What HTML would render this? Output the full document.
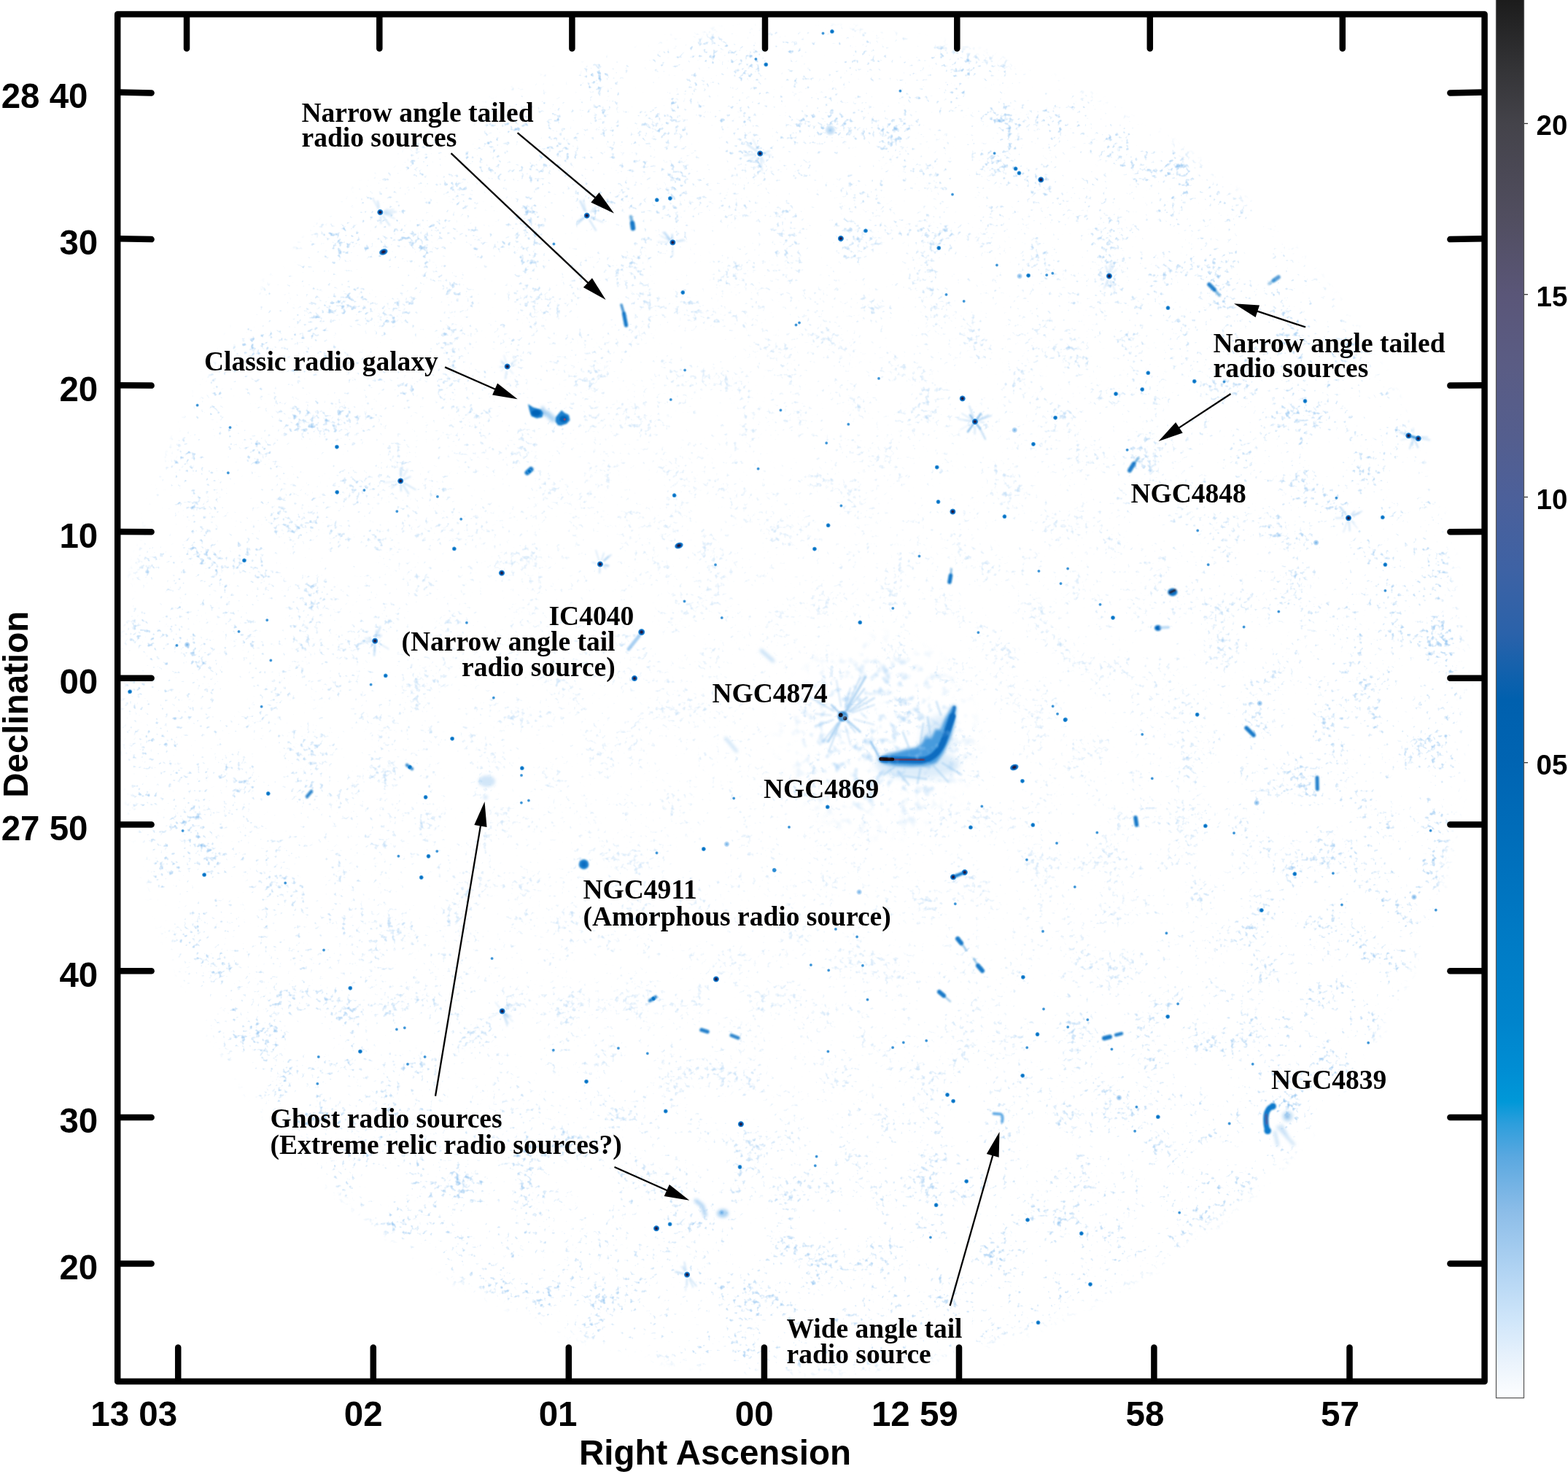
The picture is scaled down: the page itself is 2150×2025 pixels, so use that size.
<!DOCTYPE html>
<html lang="en"><head><meta charset="utf-8"><title>Coma cluster radio map</title>
<style>html,body{margin:0;padding:0;background:#fff}body{width:2150px;height:2025px;overflow:hidden}svg{display:block}.ax{font-family:"Liberation Sans",Arial,Helvetica,sans-serif;font-weight:700;fill:#000}.an{font-family:"Liberation Serif","Times New Roman",Times,serif;font-weight:700;fill:#000;font-size:37.5px}</style></head><body>
<svg width="2150" height="2025" viewBox="0 0 2150 2025">
<defs>
<radialGradient id="gD"><stop offset="0" stop-color="#2a1020"/><stop offset="0.3" stop-color="#1a2050"/><stop offset="0.55" stop-color="#0a5cb0"/><stop offset="0.8" stop-color="#1a84d4" stop-opacity="0.9"/><stop offset="1" stop-color="#4aa0e0" stop-opacity="0"/></radialGradient>
<radialGradient id="gB"><stop offset="0" stop-color="#0468bc"/><stop offset="0.5" stop-color="#0a78c8"/><stop offset="0.8" stop-color="#3a96dc" stop-opacity="0.7"/><stop offset="1" stop-color="#6ab0e8" stop-opacity="0"/></radialGradient>
<radialGradient id="gS"><stop offset="0" stop-color="#1a80cc"/><stop offset="0.55" stop-color="#3a94d8" stop-opacity="0.85"/><stop offset="1" stop-color="#7ab8ea" stop-opacity="0"/></radialGradient>
<radialGradient id="gF"><stop offset="0" stop-color="#5aa4e2" stop-opacity="0.9"/><stop offset="0.6" stop-color="#8cc0ee" stop-opacity="0.6"/><stop offset="1" stop-color="#c0dcf6" stop-opacity="0"/></radialGradient>
<radialGradient id="gF2"><stop offset="0" stop-color="#8cc0ee" stop-opacity="0.8"/><stop offset="0.6" stop-color="#a8d0f2" stop-opacity="0.5"/><stop offset="1" stop-color="#c0dcf6" stop-opacity="0"/></radialGradient>
<linearGradient id="cb" x1="0" y1="0" x2="0" y2="1"><stop offset="0.0021" stop-color="#1c1c1c"/><stop offset="0.0541" stop-color="#353538"/><stop offset="0.0906" stop-color="#44434a"/><stop offset="0.1583" stop-color="#514e60"/><stop offset="0.2124" stop-color="#5a5678"/><stop offset="0.2624" stop-color="#5a5c84"/><stop offset="0.3145" stop-color="#545e8e"/><stop offset="0.3572" stop-color="#4c609a"/><stop offset="0.4082" stop-color="#3e62a4"/><stop offset="0.4551" stop-color="#2a62aa"/><stop offset="0.5019" stop-color="#0060ae"/><stop offset="0.5462" stop-color="#0064b2"/><stop offset="0.6269" stop-color="#0072be"/><stop offset="0.6790" stop-color="#007cc6"/><stop offset="0.7310" stop-color="#0084cc"/><stop offset="0.7675" stop-color="#008ed4"/><stop offset="0.7883" stop-color="#0098d8"/><stop offset="0.8039" stop-color="#2c9edc"/><stop offset="0.8279" stop-color="#5aa8e0"/><stop offset="0.8669" stop-color="#8cbde8"/><stop offset="0.9060" stop-color="#aed2f2"/><stop offset="0.9450" stop-color="#d0e6fa"/><stop offset="0.9742" stop-color="#eaf3fc"/><stop offset="0.9997" stop-color="#fdfeff"/></linearGradient>
<filter id="nz" x="0" y="0" width="1" height="1" color-interpolation-filters="sRGB"><feTurbulence type="fractalNoise" baseFrequency="0.16" numOctaves="2" seed="11"/><feColorMatrix type="matrix" values="1 0 0 0 0 0 1 0 0 0 0 0 1 0 0 0 0 0 0 1" result="hi"/><feTurbulence type="fractalNoise" baseFrequency="0.02" numOctaves="2" seed="5"/><feColorMatrix type="matrix" values="1 0 0 0 0 0 1 0 0 0 0 0 1 0 0 0 0 0 0 1" result="lo"/><feComposite in="hi" in2="lo" operator="arithmetic" k1="0" k2="0.75" k3="0.45" k4="0" result="m"/><feColorMatrix in="m" type="matrix" values="0 0 0 0 0.56  0 0 0 0 0.76  0 0 0 0 0.94  3.5 0 0 0 -2.52"/><feGaussianBlur stdDeviation="0.7"/></filter>
<filter id="nz2" x="0" y="0" width="1" height="1" color-interpolation-filters="sRGB"><feTurbulence type="fractalNoise" baseFrequency="0.09" numOctaves="2" seed="23"/><feColorMatrix type="matrix" values="1 0 0 0 0 0 1 0 0 0 0 0 1 0 0 0 0 0 0 1" result="hi"/><feTurbulence type="fractalNoise" baseFrequency="0.03" numOctaves="2" seed="9"/><feColorMatrix type="matrix" values="1 0 0 0 0 0 1 0 0 0 0 0 1 0 0 0 0 0 0 1" result="lo"/><feComposite in="hi" in2="lo" operator="arithmetic" k1="0" k2="0.75" k3="0.35" k4="0" result="m"/><feColorMatrix in="m" type="matrix" values="0 0 0 0 0.62  0 0 0 0 0.8  0 0 0 0 0.96  3.2 0 0 0 -1.904"/><feGaussianBlur stdDeviation="1.0"/></filter>
<radialGradient id="mkc" gradientUnits="userSpaceOnUse" cx="1205" cy="1010" r="150"><stop offset="0" stop-color="#fff" stop-opacity="1"/><stop offset="0.5" stop-color="#fff" stop-opacity="0.8"/><stop offset="1" stop-color="#fff" stop-opacity="0"/></radialGradient><mask id="mc" maskUnits="userSpaceOnUse" x="1000" y="860" width="400" height="300"><rect x="1000" y="860" width="400" height="300" fill="url(#mkc)"/></mask>
<radialGradient id="mk" gradientUnits="userSpaceOnUse" cx="1090" cy="960" r="932"><stop offset="0" stop-color="#fff" stop-opacity="0.36"/><stop offset="0.5" stop-color="#fff" stop-opacity="0.48"/><stop offset="0.85" stop-color="#fff" stop-opacity="0.85"/><stop offset="0.97" stop-color="#fff" stop-opacity="1"/><stop offset="1" stop-color="#fff" stop-opacity="0"/></radialGradient>
<mask id="mm" maskUnits="userSpaceOnUse" x="0" y="0" width="2150" height="2025"><rect x="150" y="20" width="1890" height="1880" fill="url(#mk)"/></mask>
<clipPath id="fr"><rect x="165" y="24" width="1866" height="1866"/></clipPath>
<filter id="b1" x="-0.5" y="-0.5" width="2" height="2"><feGaussianBlur stdDeviation="1.1"/></filter>
<filter id="b2" x="-0.5" y="-0.5" width="2" height="2"><feGaussianBlur stdDeviation="2.2"/></filter>
<filter id="b4" x="-0.5" y="-0.5" width="2" height="2"><feGaussianBlur stdDeviation="4"/></filter>
</defs>
<rect width="2150" height="2025" fill="#fff"/>
<g clip-path="url(#fr)">
<g mask="url(#mm)"><rect x="150" y="20" width="1890" height="1880" filter="url(#nz)"/></g>
<g stroke="#8cc0ee" stroke-linecap="round" filter="url(#b1)"><line x1="521.7" y1="296.7" x2="522.4" y2="306.1" stroke-width="2.2" stroke-opacity="0.37"/><line x1="524.1" y1="292.2" x2="541.2" y2="299.7" stroke-width="1.6" stroke-opacity="0.28"/><line x1="526.6" y1="290.9" x2="543.0" y2="290.4" stroke-width="2.0" stroke-opacity="0.37"/><line x1="524.9" y1="296.0" x2="534.3" y2="309.0" stroke-width="2.0" stroke-opacity="0.39"/><line x1="519.7" y1="288.1" x2="511.5" y2="272.8" stroke-width="2.1" stroke-opacity="0.29"/><line x1="528.5" y1="292.4" x2="537.6" y2="294.2" stroke-width="2.4" stroke-opacity="0.42"/><line x1="519.6" y1="283.6" x2="517.8" y2="275.9" stroke-width="2.5" stroke-opacity="0.33"/><line x1="528.1" y1="288.1" x2="531.7" y2="286.5" stroke-width="1.4" stroke-opacity="0.27"/><line x1="526.4" y1="289.9" x2="539.6" y2="287.0" stroke-width="1.7" stroke-opacity="0.34"/></g><g stroke="#8cc0ee" stroke-linecap="round" filter="url(#b1)"><line x1="801.1" y1="298.7" x2="791.0" y2="307.6" stroke-width="2.1" stroke-opacity="0.43"/><line x1="801.5" y1="288.6" x2="795.6" y2="275.6" stroke-width="2.8" stroke-opacity="0.38"/><line x1="808.5" y1="301.8" x2="816.9" y2="315.7" stroke-width="2.6" stroke-opacity="0.35"/><line x1="803.8" y1="291.6" x2="799.8" y2="274.5" stroke-width="2.1" stroke-opacity="0.29"/><line x1="811.4" y1="298.4" x2="826.7" y2="304.9" stroke-width="1.3" stroke-opacity="0.41"/><line x1="801.5" y1="297.6" x2="792.8" y2="303.1" stroke-width="2.4" stroke-opacity="0.42"/><line x1="810.5" y1="297.3" x2="814.9" y2="298.5" stroke-width="2.3" stroke-opacity="0.30"/><line x1="810.5" y1="290.2" x2="817.2" y2="284.0" stroke-width="2.8" stroke-opacity="0.29"/><line x1="810.0" y1="298.4" x2="813.9" y2="300.5" stroke-width="1.5" stroke-opacity="0.32"/></g><g stroke="#8cc0ee" stroke-linecap="round" filter="url(#b1)"><line x1="919.5" y1="330.0" x2="914.3" y2="325.6" stroke-width="2.6" stroke-opacity="0.30"/><line x1="929.6" y1="330.5" x2="937.2" y2="328.5" stroke-width="1.9" stroke-opacity="0.34"/><line x1="918.7" y1="327.7" x2="911.4" y2="318.4" stroke-width="2.2" stroke-opacity="0.44"/><line x1="917.2" y1="332.2" x2="902.3" y2="331.5" stroke-width="1.6" stroke-opacity="0.29"/><line x1="928.0" y1="331.6" x2="939.9" y2="329.9" stroke-width="1.2" stroke-opacity="0.32"/><line x1="919.7" y1="330.9" x2="906.1" y2="323.4" stroke-width="2.2" stroke-opacity="0.24"/><line x1="918.7" y1="328.6" x2="908.8" y2="318.4" stroke-width="1.8" stroke-opacity="0.38"/><line x1="922.2" y1="329.3" x2="921.6" y2="321.6" stroke-width="2.3" stroke-opacity="0.44"/><line x1="922.4" y1="337.7" x2="922.3" y2="350.7" stroke-width="1.7" stroke-opacity="0.31"/></g><g stroke="#8cc0ee" stroke-linecap="round" filter="url(#b1)"><line x1="1519.0" y1="383.0" x2="1513.9" y2="395.4" stroke-width="1.7" stroke-opacity="0.31"/><line x1="1521.3" y1="375.4" x2="1523.4" y2="360.7" stroke-width="2.4" stroke-opacity="0.29"/><line x1="1522.1" y1="385.4" x2="1523.2" y2="391.6" stroke-width="1.5" stroke-opacity="0.32"/><line x1="1519.8" y1="375.2" x2="1516.2" y2="364.8" stroke-width="1.7" stroke-opacity="0.41"/><line x1="1514.2" y1="381.2" x2="1509.4" y2="383.2" stroke-width="1.7" stroke-opacity="0.37"/><line x1="1524.8" y1="375.0" x2="1530.8" y2="369.8" stroke-width="1.4" stroke-opacity="0.34"/><line x1="1523.5" y1="385.1" x2="1528.8" y2="398.8" stroke-width="1.5" stroke-opacity="0.29"/><line x1="1523.1" y1="372.7" x2="1528.4" y2="358.6" stroke-width="1.8" stroke-opacity="0.25"/><line x1="1519.1" y1="385.2" x2="1517.3" y2="391.8" stroke-width="1.8" stroke-opacity="0.32"/></g><g stroke="#8cc0ee" stroke-linecap="round" filter="url(#b1)"><line x1="1332.5" y1="580.5" x2="1316.9" y2="589.2" stroke-width="1.4" stroke-opacity="0.23"/><line x1="1343.8" y1="575.5" x2="1359.2" y2="569.8" stroke-width="1.9" stroke-opacity="0.44"/><line x1="1340.6" y1="576.3" x2="1355.2" y2="569.1" stroke-width="2.5" stroke-opacity="0.37"/><line x1="1332.5" y1="577.6" x2="1322.2" y2="576.3" stroke-width="1.6" stroke-opacity="0.24"/><line x1="1333.1" y1="575.8" x2="1318.8" y2="566.8" stroke-width="1.3" stroke-opacity="0.43"/><line x1="1334.3" y1="571.0" x2="1329.1" y2="556.9" stroke-width="2.6" stroke-opacity="0.35"/><line x1="1343.6" y1="578.7" x2="1349.3" y2="579.1" stroke-width="1.7" stroke-opacity="0.37"/><line x1="1331.9" y1="577.3" x2="1314.0" y2="574.5" stroke-width="2.2" stroke-opacity="0.30"/><line x1="1336.8" y1="585.4" x2="1336.6" y2="594.8" stroke-width="2.5" stroke-opacity="0.30"/></g><g stroke="#8cc0ee" stroke-linecap="round" filter="url(#b1)"><line x1="690.4" y1="1391.8" x2="695.6" y2="1406.7" stroke-width="1.5" stroke-opacity="0.40"/><line x1="694.8" y1="1383.1" x2="707.6" y2="1376.2" stroke-width="1.2" stroke-opacity="0.37"/><line x1="690.7" y1="1383.9" x2="697.6" y2="1375.9" stroke-width="1.6" stroke-opacity="0.34"/><line x1="683.9" y1="1388.9" x2="670.1" y2="1396.1" stroke-width="1.2" stroke-opacity="0.24"/><line x1="691.1" y1="1389.0" x2="696.3" y2="1394.2" stroke-width="2.8" stroke-opacity="0.42"/><line x1="693.3" y1="1389.2" x2="701.0" y2="1393.8" stroke-width="1.7" stroke-opacity="0.30"/><line x1="685.0" y1="1381.7" x2="679.5" y2="1374.4" stroke-width="1.5" stroke-opacity="0.30"/><line x1="692.7" y1="1390.5" x2="702.9" y2="1400.4" stroke-width="1.8" stroke-opacity="0.24"/><line x1="690.7" y1="1390.8" x2="696.6" y2="1403.0" stroke-width="2.5" stroke-opacity="0.31"/></g><g stroke="#8cc0ee" stroke-linecap="round" filter="url(#b1)"><line x1="824.8" y1="767.7" x2="828.0" y2="758.3" stroke-width="1.8" stroke-opacity="0.34"/><line x1="821.4" y1="768.6" x2="817.1" y2="754.6" stroke-width="1.9" stroke-opacity="0.28"/><line x1="816.6" y1="772.1" x2="812.2" y2="771.0" stroke-width="1.9" stroke-opacity="0.32"/><line x1="828.5" y1="768.2" x2="834.0" y2="763.0" stroke-width="2.6" stroke-opacity="0.40"/><line x1="822.5" y1="778.8" x2="822.0" y2="785.2" stroke-width="2.5" stroke-opacity="0.37"/><line x1="828.2" y1="769.0" x2="837.6" y2="760.9" stroke-width="2.4" stroke-opacity="0.35"/><line x1="827.6" y1="777.1" x2="830.9" y2="779.6" stroke-width="1.4" stroke-opacity="0.40"/><line x1="826.2" y1="774.5" x2="833.9" y2="776.6" stroke-width="2.6" stroke-opacity="0.27"/><line x1="830.0" y1="774.6" x2="834.5" y2="775.2" stroke-width="2.6" stroke-opacity="0.38"/></g><g stroke="#8cc0ee" stroke-linecap="round" filter="url(#b1)"><line x1="553.2" y1="652.7" x2="558.5" y2="643.9" stroke-width="2.5" stroke-opacity="0.23"/><line x1="549.8" y1="653.9" x2="551.4" y2="639.5" stroke-width="1.4" stroke-opacity="0.39"/><line x1="552.2" y1="658.1" x2="562.5" y2="653.6" stroke-width="2.1" stroke-opacity="0.41"/><line x1="549.4" y1="663.3" x2="549.9" y2="672.9" stroke-width="2.2" stroke-opacity="0.39"/><line x1="545.4" y1="662.4" x2="537.0" y2="669.0" stroke-width="1.8" stroke-opacity="0.32"/><line x1="554.0" y1="662.1" x2="569.7" y2="671.2" stroke-width="1.9" stroke-opacity="0.39"/><line x1="552.6" y1="664.9" x2="560.2" y2="676.8" stroke-width="2.3" stroke-opacity="0.34"/><line x1="543.0" y1="660.0" x2="526.8" y2="661.7" stroke-width="1.4" stroke-opacity="0.25"/><line x1="549.1" y1="651.8" x2="549.0" y2="642.2" stroke-width="1.9" stroke-opacity="0.39"/></g><g stroke="#8cc0ee" stroke-linecap="round" filter="url(#b1)"><line x1="1043.9" y1="214.5" x2="1047.2" y2="222.3" stroke-width="2.1" stroke-opacity="0.30"/><line x1="1042.9" y1="216.9" x2="1044.8" y2="233.7" stroke-width="1.7" stroke-opacity="0.38"/><line x1="1036.0" y1="214.3" x2="1026.7" y2="219.9" stroke-width="1.6" stroke-opacity="0.27"/><line x1="1047.5" y1="211.3" x2="1057.4" y2="212.7" stroke-width="1.5" stroke-opacity="0.31"/><line x1="1039.2" y1="216.7" x2="1036.9" y2="221.3" stroke-width="2.8" stroke-opacity="0.33"/><line x1="1037.9" y1="207.4" x2="1024.6" y2="197.9" stroke-width="2.5" stroke-opacity="0.35"/><line x1="1035.6" y1="211.3" x2="1020.4" y2="213.1" stroke-width="1.8" stroke-opacity="0.39"/><line x1="1047.4" y1="209.2" x2="1055.0" y2="207.2" stroke-width="1.6" stroke-opacity="0.39"/><line x1="1038.7" y1="203.5" x2="1032.3" y2="190.9" stroke-width="1.6" stroke-opacity="0.27"/></g><g stroke="#8cc0ee" stroke-linecap="round" filter="url(#b1)"><line x1="514.0" y1="882.6" x2="513.1" y2="898.5" stroke-width="2.6" stroke-opacity="0.43"/><line x1="514.0" y1="886.0" x2="513.7" y2="893.1" stroke-width="1.9" stroke-opacity="0.39"/><line x1="517.2" y1="880.5" x2="532.8" y2="889.8" stroke-width="1.7" stroke-opacity="0.31"/><line x1="508.6" y1="875.6" x2="505.4" y2="873.8" stroke-width="1.7" stroke-opacity="0.32"/><line x1="510.2" y1="879.1" x2="496.1" y2="880.3" stroke-width="2.7" stroke-opacity="0.31"/><line x1="510.7" y1="877.7" x2="500.9" y2="874.9" stroke-width="2.3" stroke-opacity="0.25"/><line x1="519.9" y1="873.8" x2="522.8" y2="871.3" stroke-width="2.7" stroke-opacity="0.31"/><line x1="515.2" y1="872.0" x2="516.2" y2="864.7" stroke-width="2.3" stroke-opacity="0.37"/><line x1="515.7" y1="874.6" x2="521.3" y2="859.4" stroke-width="2.7" stroke-opacity="0.38"/></g><g stroke="#8cc0ee" stroke-linecap="round" filter="url(#b1)"><line x1="938.6" y1="1746.8" x2="925.6" y2="1743.8" stroke-width="1.8" stroke-opacity="0.39"/><line x1="939.6" y1="1742.3" x2="936.7" y2="1736.3" stroke-width="2.2" stroke-opacity="0.37"/><line x1="945.3" y1="1754.3" x2="950.4" y2="1764.9" stroke-width="1.4" stroke-opacity="0.43"/><line x1="945.0" y1="1751.2" x2="954.8" y2="1763.2" stroke-width="2.2" stroke-opacity="0.35"/><line x1="938.9" y1="1743.4" x2="933.5" y2="1736.1" stroke-width="1.5" stroke-opacity="0.24"/><line x1="940.7" y1="1741.0" x2="938.4" y2="1730.4" stroke-width="2.4" stroke-opacity="0.31"/><line x1="941.6" y1="1752.5" x2="939.9" y2="1769.7" stroke-width="1.3" stroke-opacity="0.34"/><line x1="942.2" y1="1754.4" x2="942.4" y2="1762.6" stroke-width="1.7" stroke-opacity="0.32"/><line x1="935.5" y1="1745.8" x2="927.7" y2="1743.7" stroke-width="2.6" stroke-opacity="0.25"/></g><g stroke="#8cc0ee" stroke-linecap="round" filter="url(#b1)"><line x1="1937.6" y1="602.5" x2="1936.5" y2="610.5" stroke-width="2.4" stroke-opacity="0.39"/><line x1="1939.6" y1="602.6" x2="1944.3" y2="613.5" stroke-width="2.4" stroke-opacity="0.41"/><line x1="1938.0" y1="593.0" x2="1937.9" y2="586.9" stroke-width="1.8" stroke-opacity="0.27"/><line x1="1932.2" y1="598.0" x2="1925.4" y2="596.8" stroke-width="1.6" stroke-opacity="0.40"/><line x1="1944.9" y1="600.3" x2="1960.1" y2="603.2" stroke-width="2.7" stroke-opacity="0.31"/><line x1="1932.4" y1="597.1" x2="1920.2" y2="592.9" stroke-width="2.8" stroke-opacity="0.38"/><line x1="1935.8" y1="606.0" x2="1932.9" y2="615.0" stroke-width="2.2" stroke-opacity="0.39"/><line x1="1944.9" y1="599.1" x2="1957.3" y2="599.3" stroke-width="2.0" stroke-opacity="0.34"/><line x1="1934.2" y1="600.0" x2="1921.1" y2="603.3" stroke-width="1.3" stroke-opacity="0.34"/></g><g stroke="#8cc0ee" stroke-linecap="round" filter="url(#b1)"><line x1="1845.8" y1="705.9" x2="1838.1" y2="695.8" stroke-width="2.7" stroke-opacity="0.43"/><line x1="1853.6" y1="715.2" x2="1861.3" y2="724.1" stroke-width="1.3" stroke-opacity="0.31"/><line x1="1849.4" y1="713.4" x2="1850.8" y2="727.4" stroke-width="2.7" stroke-opacity="0.30"/><line x1="1853.4" y1="705.3" x2="1857.2" y2="701.4" stroke-width="2.6" stroke-opacity="0.36"/><line x1="1854.9" y1="707.1" x2="1867.3" y2="701.0" stroke-width="1.7" stroke-opacity="0.41"/><line x1="1855.6" y1="707.0" x2="1863.7" y2="703.3" stroke-width="2.4" stroke-opacity="0.33"/><line x1="1851.5" y1="712.0" x2="1857.6" y2="717.0" stroke-width="1.5" stroke-opacity="0.26"/><line x1="1842.5" y1="710.1" x2="1831.5" y2="710.3" stroke-width="1.9" stroke-opacity="0.37"/><line x1="1847.2" y1="715.0" x2="1842.1" y2="729.4" stroke-width="1.8" stroke-opacity="0.27"/></g><g stroke="#8cc0ee" stroke-linecap="round" filter="url(#b1)"><line x1="700.9" y1="498.6" x2="707.8" y2="493.6" stroke-width="1.8" stroke-opacity="0.34"/><line x1="692.2" y1="500.2" x2="687.4" y2="496.8" stroke-width="1.5" stroke-opacity="0.40"/><line x1="698.9" y1="506.7" x2="703.5" y2="512.5" stroke-width="1.5" stroke-opacity="0.26"/><line x1="692.4" y1="504.7" x2="687.1" y2="508.4" stroke-width="1.4" stroke-opacity="0.26"/><line x1="692.3" y1="502.7" x2="685.3" y2="503.1" stroke-width="1.9" stroke-opacity="0.32"/><line x1="694.7" y1="499.4" x2="691.1" y2="487.5" stroke-width="1.8" stroke-opacity="0.23"/><line x1="699.6" y1="501.6" x2="706.7" y2="500.1" stroke-width="2.0" stroke-opacity="0.26"/><line x1="692.2" y1="499.2" x2="687.2" y2="494.3" stroke-width="1.3" stroke-opacity="0.39"/><line x1="694.5" y1="509.4" x2="693.0" y2="518.8" stroke-width="2.7" stroke-opacity="0.29"/></g><g stroke="#5aa4e2" stroke-linecap="round" filter="url(#b1)" stroke-width="2.4" stroke-opacity="0.7"><line x1="1330" y1="569" x2="1344" y2="588"/><line x1="1345" y1="567" x2="1327" y2="592"/><line x1="1344" y1="588" x2="1351" y2="602" stroke-opacity="0.35"/></g><g stroke="#7ab6ea" stroke-linecap="round" filter="url(#b1)"><line x1="1159.6" y1="975.1" x2="1186.6" y2="928.3" stroke-width="3.2" stroke-opacity="0.55"/><line x1="1161.8" y1="974.1" x2="1185.2" y2="944.2" stroke-width="2.6" stroke-opacity="0.4"/><line x1="1161.3" y1="969.2" x2="1179.2" y2="929.0" stroke-width="2.4" stroke-opacity="0.35"/><line x1="1163.5" y1="975.8" x2="1188.7" y2="956.1" stroke-width="2.6" stroke-opacity="0.4"/><line x1="1166.0" y1="976.0" x2="1198.9" y2="957.0" stroke-width="2.6" stroke-opacity="0.35"/><line x1="1168.8" y1="977.2" x2="1198.8" y2="966.3" stroke-width="2.4" stroke-opacity="0.3"/><line x1="1158.7" y1="970.4" x2="1166.0" y2="943.4" stroke-width="2.2" stroke-opacity="0.3"/><line x1="1152.6" y1="987.2" x2="1135.6" y2="1016.6" stroke-width="3" stroke-opacity="0.55"/><line x1="1151.9" y1="991.3" x2="1136.1" y2="1030.2" stroke-width="2.4" stroke-opacity="0.35"/><line x1="1148.2" y1="991.5" x2="1128.5" y2="1016.7" stroke-width="2.2" stroke-opacity="0.35"/><line x1="1152.1" y1="978.5" x2="1140.0" y2="966.4" stroke-width="2.6" stroke-opacity="0.6"/><line x1="1159.3" y1="985.3" x2="1179.4" y2="1003.4" stroke-width="3" stroke-opacity="0.55"/><line x1="1161.8" y1="989.9" x2="1172.8" y2="1004.1" stroke-width="2.2" stroke-opacity="0.35"/><line x1="1142.4" y1="986.8" x2="1118.0" y2="995.7" stroke-width="2.4" stroke-opacity="0.3"/><line x1="1139.7" y1="980.6" x2="1117.7" y2="978.7" stroke-width="2.2" stroke-opacity="0.25"/><line x1="1153.2" y1="968.2" x2="1146.9" y2="932.8" stroke-width="2.4" stroke-opacity="0.25"/><line x1="1143.5" y1="975.0" x2="1108.0" y2="954.5" stroke-width="2.6" stroke-opacity="0.25"/><line x1="1159.2" y1="995.5" x2="1166.0" y2="1020.6" stroke-width="2.2" stroke-opacity="0.25"/><line x1="1171.1" y1="986.1" x2="1198.1" y2="993.4" stroke-width="2.4" stroke-opacity="0.25"/></g><g filter="url(#b1)"><circle cx="1155.6" cy="982" r="7" fill="#1a7ccc" fill-opacity="0.85"/></g><circle cx="1152.8" cy="980.3" r="2.9" fill="#14101c"/><circle cx="1158.6" cy="984.8" r="2.7" fill="#14101c"/><g filter="url(#b1)"><ellipse cx="1607.8" cy="811.8" rx="6.6" ry="5.4" fill="#0c74c8"/><ellipse cx="1587.8" cy="861" rx="4.8" ry="4" fill="#0c74c8"/><ellipse cx="1587.5" cy="861" rx="2.6" ry="2.2" fill="#0662b6"/><line x1="1592" y1="860.5" x2="1602" y2="860" stroke="#a4cef2" stroke-width="4" stroke-opacity="0.7" stroke-linecap="round"/><line x1="1604.6" y1="812.3" x2="1611" y2="809.3" stroke="#241418" stroke-width="3.4" stroke-linecap="round"/></g><g filter="url(#b4)"><ellipse cx="1258" cy="1048" rx="58" ry="20" fill="#b4d6f4" fill-opacity="0.45"/><ellipse cx="1284" cy="1008" rx="20" ry="30" fill="#b4d6f4" fill-opacity="0.4" transform="rotate(25 1284 1008)"/></g><g stroke="#9ccaf0" stroke-linecap="round" filter="url(#b1)" stroke-opacity="0.45" stroke-width="3"><line x1="1232" y1="1058" x2="1246" y2="1076"/><line x1="1262" y1="1054" x2="1258" y2="1074"/><line x1="1280" y1="1050" x2="1300" y2="1072"/><line x1="1292" y1="1046" x2="1318" y2="1062"/><line x1="1246" y1="1024" x2="1238" y2="1004"/><line x1="1262" y1="1018" x2="1266" y2="992"/><line x1="1276" y1="1010" x2="1272" y2="984"/><line x1="1226" y1="1052" x2="1212" y2="1062"/><line x1="1290" y1="980" x2="1284" y2="962"/><line x1="1240" y1="1064" x2="1270" y2="1068"/></g><g filter="url(#b2)"><path d="M1203,1041 L1216,1034 L1230,1031 L1244,1027 L1256,1025 L1264,1019 L1270,1008 L1276,1013 L1283,999 L1289,1001 L1296,985 L1303,972 L1308,966 L1311,970 L1309,990 L1303,1012 L1294,1032 L1284,1046 L1272,1050 L1250,1051 L1228,1050 L1212,1047 Z" fill="#3a94da" fill-opacity="0.92"/></g><g filter="url(#b1)" fill="none" stroke-linecap="round"><path d="M1210,1041 L1262,1042.5 Q1282,1042 1293,1018 Q1300,1000 1306,982" stroke="#0c6cc0" stroke-width="8.5"/><path d="M1300,1000 Q1305,985 1308.5,970" stroke="#0c6cc0" stroke-width="4"/><path d="M1206,1039 L1194,1017" stroke="#6aaee6" stroke-width="2" stroke-opacity="0.8"/></g><g filter="url(#b1)"><path d="M1222,1041 L1266,1041.8" stroke="#5c3c62" stroke-width="4.2" stroke-linecap="round" fill="none"/></g><path d="M1207.5,1040.6 L1224,1041" stroke="#1c0c10" stroke-width="4.6" stroke-linecap="round" fill="none"/><g filter="url(#b2)"><line x1="748" y1="565" x2="761" y2="577" stroke="#9ccaf0" stroke-width="8" stroke-opacity="0.8"/><path d="M744,556 L749,566 L745,571 L742,560 Z" fill="#7ab6ea" fill-opacity="0.8"/></g><g filter="url(#b1)"><path d="M724,554 L731,558.5 L742,561.5 L745,566 L743.5,572 L736,573.5 L728.5,570.5 L726,563 Z" fill="#1a80ce"/><path d="M762,572 L767,566 L770,562.5 L774,566 L780,569 L781.5,576 L777,581 L769,583.5 L765,583 L761.5,578 Z" fill="#1a80ce"/></g><g filter="url(#b1)"><ellipse cx="735" cy="566.3" rx="6.5" ry="4.2" fill="#0662b6"/><ellipse cx="772.5" cy="574.5" rx="5.5" ry="4.5" fill="#0662b6"/></g><circle cx="774.2" cy="575" r="1.7" fill="#7a4a78"/><g filter="url(#b2)"><circle cx="1765.5" cy="1530.5" r="7.5" fill="#a4cef2" fill-opacity="0.6"/><circle cx="1765" cy="1530.5" r="2.2" fill="#3a94da"/><path d="M1752,1545 L1774,1569 M1757,1543 L1766,1560 M1748,1552 L1752,1570" stroke="#b4d6f4" stroke-width="4" stroke-opacity="0.7" fill="none" stroke-linecap="round"/></g><g filter="url(#b1)" fill="none" stroke-linecap="round"><path d="M1745.5,1516.5 Q1736,1520 1735.8,1533 Q1735.6,1544 1738.3,1550.5" stroke="#0c7acc" stroke-width="7.2"/><circle cx="1745.3" cy="1516.8" r="4.6" fill="#0c7acc"/><circle cx="1738.2" cy="1550.3" r="4.8" fill="#0c7acc"/><path d="M1736.2,1528 L1737,1541" stroke="#5a4a80" stroke-width="2" stroke-opacity="0.9"/></g><g filter="url(#b1)" fill="none" stroke-linecap="round"><path d="M1362.5,1526.8 L1372,1527.5 Q1376,1529 1374,1538" stroke="#4a9ee0" stroke-width="4" stroke-opacity="0.85"/></g><g filter="url(#b1)"><path d="M877,871 L862,890" stroke="#8cc0ee" stroke-width="5" stroke-opacity="0.75" stroke-linecap="round"/></g><circle cx="879.7" cy="866.6" r="5" fill="url(#gD)"/><g filter="url(#b1)"><circle cx="800.5" cy="1185" r="6.8" fill="#1a80ce"/><circle cx="800.5" cy="1185" r="3.4" fill="#0a6cc0"/></g><g filter="url(#b2)"><ellipse cx="667.5" cy="1071.2" rx="11.5" ry="8" fill="#b4d6f4" fill-opacity="0.62"/><circle cx="665.6" cy="1093" r="2.5" fill="#a4cef2" fill-opacity="0.7"/><path d="M954.6,1646.3 L963,1653 L966.9,1665.6" stroke="#a4cef2" stroke-width="5.5" stroke-opacity="0.85" fill="none" stroke-linecap="round"/><ellipse cx="991" cy="1663.5" rx="8" ry="6" fill="#9ccaf0" fill-opacity="0.85"/></g><g filter="url(#b2)" stroke="#b4d6f4" stroke-linecap="round" stroke-opacity="0.7"><line x1="1044" y1="892" x2="1060" y2="906" stroke-width="5"/><line x1="995" y1="1012" x2="1010" y2="1030" stroke-width="4"/></g><circle cx="1685.7" cy="1540.4" r="2.7" fill="url(#gS)"/><g filter="url(#b1)" stroke="#1a80ce" stroke-linecap="round"><line x1="1307" y1="1202.4" x2="1322.8" y2="1196" stroke-width="4.5"/><line x1="1931.4" y1="597.3" x2="1944.7" y2="601.2" stroke-width="3.5" stroke-opacity="0.8"/></g><g mask="url(#mc)"><rect x="1000" y="860" width="400" height="300" filter="url(#nz2)"/></g>
<g filter="url(#b1)" stroke-linecap="round" fill="none">
<line x1="868.0" y1="313.0" x2="867.0" y2="306.0" stroke="#0a74c6" stroke-width="6.5" stroke-opacity="0.95"/>
<line x1="867.0" y1="306.0" x2="865.0" y2="297.0" stroke="#0a74c6" stroke-width="4.5" stroke-opacity="0.5"/>
<line x1="852.0" y1="418.0" x2="855.5" y2="430.0" stroke="#0a74c6" stroke-width="3.6" stroke-opacity="0.75"/>
<line x1="855.5" y1="430.0" x2="858.5" y2="446.0" stroke="#0a74c6" stroke-width="5.2" stroke-opacity="0.95"/>
<line x1="1658.0" y1="390.0" x2="1665.0" y2="397.0" stroke="#0a74c6" stroke-width="5.5" stroke-opacity="0.9"/>
<line x1="1665.0" y1="397.0" x2="1672.0" y2="405.0" stroke="#0a74c6" stroke-width="4.0" stroke-opacity="0.5"/>
<line x1="1753.0" y1="380.0" x2="1746.5" y2="384.5" stroke="#0a74c6" stroke-width="5.5" stroke-opacity="0.7"/>
<line x1="1746.5" y1="384.5" x2="1740.0" y2="389.0" stroke="#0a74c6" stroke-width="4.0" stroke-opacity="0.35"/>
<line x1="1554.5" y1="636.0" x2="1549.0" y2="645.0" stroke="#0a74c6" stroke-width="6.0" stroke-opacity="0.9"/>
<line x1="1561.0" y1="628.0" x2="1554.5" y2="636.0" stroke="#0a74c6" stroke-width="3.5" stroke-opacity="0.5"/>
<line x1="1514.0" y1="1423.5" x2="1522.0" y2="1421.5" stroke="#0a74c6" stroke-width="6.0" stroke-opacity="0.95"/>
<line x1="1530.0" y1="1419.0" x2="1538.0" y2="1417.0" stroke="#0a74c6" stroke-width="4.5" stroke-opacity="0.9"/>
<line x1="1557.0" y1="1121.0" x2="1558.5" y2="1131.0" stroke="#0a74c6" stroke-width="5.5" stroke-opacity="0.95"/>
<line x1="1806.0" y1="1066.0" x2="1806.3" y2="1082.0" stroke="#0a74c6" stroke-width="5.0" stroke-opacity="0.9"/>
<line x1="1709.0" y1="998.0" x2="1719.0" y2="1008.0" stroke="#0a74c6" stroke-width="5.5" stroke-opacity="0.95"/>
<line x1="1302.0" y1="798.0" x2="1303.5" y2="789.0" stroke="#0a74c6" stroke-width="5.5" stroke-opacity="0.95"/>
<line x1="1304.0" y1="786.0" x2="1304.5" y2="780.0" stroke="#0a74c6" stroke-width="3.0" stroke-opacity="0.4"/>
<line x1="1313.0" y1="1287.0" x2="1318.0" y2="1293.0" stroke="#0a74c6" stroke-width="6.0" stroke-opacity="0.95"/>
<line x1="1319.0" y1="1294.0" x2="1325.0" y2="1303.0" stroke="#0a74c6" stroke-width="2.5" stroke-opacity="0.4"/>
<line x1="1341.0" y1="1324.0" x2="1347.0" y2="1331.0" stroke="#0a74c6" stroke-width="6.0" stroke-opacity="0.95"/>
<line x1="1335.0" y1="1314.0" x2="1340.0" y2="1322.0" stroke="#0a74c6" stroke-width="2.5" stroke-opacity="0.4"/>
<line x1="1288.0" y1="1360.0" x2="1294.0" y2="1365.0" stroke="#0a74c6" stroke-width="6.0" stroke-opacity="0.95"/>
<line x1="1295.0" y1="1366.0" x2="1303.0" y2="1373.0" stroke="#0a74c6" stroke-width="2.5" stroke-opacity="0.35"/>
<line x1="962.0" y1="1412.0" x2="970.0" y2="1414.5" stroke="#0a74c6" stroke-width="5.5" stroke-opacity="0.9"/>
<line x1="1003.0" y1="1419.5" x2="1012.0" y2="1423.0" stroke="#0a74c6" stroke-width="5.0" stroke-opacity="0.85"/>
<line x1="891.0" y1="1372.0" x2="899.0" y2="1367.0" stroke="#0a74c6" stroke-width="4.5" stroke-opacity="0.85"/>
<line x1="421.0" y1="1092.0" x2="427.0" y2="1085.0" stroke="#0a74c6" stroke-width="4.5" stroke-opacity="0.85"/>
<line x1="558.0" y1="1049.0" x2="565.0" y2="1054.0" stroke="#0a74c6" stroke-width="4.5" stroke-opacity="0.8"/>
<line x1="723.0" y1="648.0" x2="728.0" y2="643.5" stroke="#0a74c6" stroke-width="7.0" stroke-opacity="0.95"/>
</g>
<g><circle cx="521.3" cy="291.0" r="4.5" fill="url(#gD)"/><ellipse cx="525.8" cy="345.4" rx="6.6" ry="4.6" fill="url(#gD)" transform="rotate(-20 525.8 345.4)"/><circle cx="804.7" cy="295.6" r="4.5" fill="url(#gD)"/><circle cx="759.4" cy="334.5" r="2.6" fill="url(#gS)"/><circle cx="900.7" cy="274.2" r="3.4" fill="url(#gB)"/><circle cx="918.8" cy="272.0" r="3.4" fill="url(#gB)"/><circle cx="922.4" cy="332.4" r="4.5" fill="url(#gD)"/><circle cx="936.3" cy="401.0" r="3.4" fill="url(#gB)"/><circle cx="695.6" cy="502.5" r="4.5" fill="url(#gD)"/><circle cx="270.6" cy="555.6" r="2.6" fill="url(#gS)"/><circle cx="315.5" cy="586.1" r="2.6" fill="url(#gS)"/><circle cx="461.9" cy="612.7" r="3.4" fill="url(#gB)"/><circle cx="312.8" cy="648.3" r="2.6" fill="url(#gS)"/><circle cx="549.2" cy="659.4" r="4.5" fill="url(#gD)"/><circle cx="462.2" cy="674.8" r="3.4" fill="url(#gB)"/><circle cx="499.4" cy="672.1" r="2.6" fill="url(#gS)"/><circle cx="725.7" cy="645.9" r="3.4" fill="url(#gB)"/><circle cx="622.8" cy="752.4" r="3.4" fill="url(#gB)"/><circle cx="334.9" cy="768.4" r="3.4" fill="url(#gB)"/><circle cx="688.0" cy="785.6" r="4.5" fill="url(#gD)"/><circle cx="822.9" cy="773.5" r="4.5" fill="url(#gD)"/><circle cx="544.3" cy="701.1" r="2.6" fill="url(#gS)"/><circle cx="599.9" cy="680.9" r="2.6" fill="url(#gS)"/><circle cx="632.2" cy="711.7" r="2.6" fill="url(#gS)"/><circle cx="870.0" cy="930.0" r="4.5" fill="url(#gD)"/><circle cx="514.2" cy="878.7" r="4.5" fill="url(#gD)"/><circle cx="528.7" cy="926.4" r="3.4" fill="url(#gB)"/><circle cx="620.1" cy="1012.7" r="3.4" fill="url(#gB)"/><circle cx="715.8" cy="1053.2" r="3.4" fill="url(#gB)"/><circle cx="715.0" cy="1063.0" r="2.6" fill="url(#gS)"/><circle cx="583.6" cy="1093.0" r="3.4" fill="url(#gB)"/><circle cx="561.9" cy="1051.7" r="3.4" fill="url(#gB)"/><circle cx="714.9" cy="1100.6" r="2.6" fill="url(#gS)"/><circle cx="724.9" cy="1097.5" r="2.6" fill="url(#gS)"/><circle cx="1006.2" cy="1094.5" r="2.6" fill="url(#gS)"/><circle cx="587.5" cy="1173.9" r="3.4" fill="url(#gB)"/><circle cx="964.8" cy="1164.0" r="3.4" fill="url(#gB)"/><circle cx="996.5" cy="1157.3" r="4.6" fill="url(#gF)"/><circle cx="900.5" cy="1169.4" r="2.6" fill="url(#gS)"/><circle cx="1082.0" cy="1134.0" r="2.6" fill="url(#gS)"/><ellipse cx="1390.7" cy="1052.0" rx="6.6" ry="4.6" fill="url(#gD)" transform="rotate(-20 1390.7 1052.0)"/><circle cx="1401.9" cy="1070.8" r="3.4" fill="url(#gB)"/><circle cx="1461.0" cy="986.5" r="3.4" fill="url(#gB)"/><circle cx="1307.0" cy="1202.4" r="4.5" fill="url(#gD)"/><circle cx="1322.8" cy="1196.0" r="4.5" fill="url(#gD)"/><circle cx="1416.3" cy="1131.1" r="3.4" fill="url(#gB)"/><circle cx="1330.9" cy="1134.4" r="3.4" fill="url(#gB)"/><circle cx="1407.9" cy="1178.8" r="2.6" fill="url(#gS)"/><circle cx="1346.3" cy="1105.5" r="2.6" fill="url(#gS)"/><circle cx="1134.7" cy="1106.4" r="3.4" fill="url(#gB)"/><circle cx="1061.7" cy="1193.0" r="3.4" fill="url(#gB)"/><circle cx="1309.8" cy="1239.2" r="2.6" fill="url(#gS)"/><circle cx="688.6" cy="1386.4" r="4.5" fill="url(#gD)"/><circle cx="480.3" cy="1354.7" r="3.4" fill="url(#gB)"/><circle cx="577.7" cy="1203.0" r="3.4" fill="url(#gB)"/><circle cx="493.9" cy="1441.6" r="3.4" fill="url(#gB)"/><circle cx="981.9" cy="1342.4" r="4.5" fill="url(#gD)"/><circle cx="895.9" cy="1369.2" r="3.4" fill="url(#gB)"/><circle cx="887.8" cy="1444.3" r="2.6" fill="url(#gS)"/><circle cx="847.9" cy="1437.1" r="2.6" fill="url(#gS)"/><circle cx="758.8" cy="1439.8" r="2.6" fill="url(#gS)"/><circle cx="804.0" cy="1482.8" r="3.4" fill="url(#gB)"/><circle cx="912.7" cy="1523.5" r="3.4" fill="url(#gB)"/><circle cx="1015.9" cy="1541.2" r="4.5" fill="url(#gD)"/><circle cx="1014.5" cy="1600.0" r="3.4" fill="url(#gB)"/><circle cx="1119.6" cy="1585.6" r="2.6" fill="url(#gS)"/><circle cx="1117.8" cy="1598.2" r="2.6" fill="url(#gS)"/><circle cx="900.0" cy="1684.2" r="4.5" fill="url(#gD)"/><circle cx="918.6" cy="1678.4" r="3.4" fill="url(#gB)"/><circle cx="989.6" cy="1662.5" r="4.6" fill="url(#gF)"/><circle cx="942.1" cy="1747.6" r="4.5" fill="url(#gD)"/><circle cx="1135.4" cy="1441.6" r="2.6" fill="url(#gS)"/><circle cx="1061.2" cy="1192.6" r="2.6" fill="url(#gS)"/><circle cx="1111.9" cy="1323.0" r="2.6" fill="url(#gS)"/><circle cx="1224.1" cy="1436.2" r="2.6" fill="url(#gS)"/><circle cx="1422.5" cy="1418.1" r="3.4" fill="url(#gB)"/><circle cx="1524.4" cy="1438.5" r="2.6" fill="url(#gS)"/><circle cx="1402.2" cy="1474.7" r="3.4" fill="url(#gB)"/><circle cx="1299.0" cy="1501.0" r="3.4" fill="url(#gB)"/><circle cx="1307.1" cy="1509.6" r="3.4" fill="url(#gB)"/><circle cx="1534.4" cy="1505.0" r="4.6" fill="url(#gF)"/><circle cx="1558.4" cy="1517.7" r="2.6" fill="url(#gS)"/><circle cx="1587.8" cy="1531.3" r="3.4" fill="url(#gB)"/><circle cx="1556.1" cy="1550.8" r="2.6" fill="url(#gS)"/><circle cx="1325.2" cy="1619.6" r="3.4" fill="url(#gB)"/><circle cx="1283.6" cy="1652.2" r="3.4" fill="url(#gB)"/><circle cx="1409.0" cy="1672.5" r="3.4" fill="url(#gB)"/><circle cx="1617.2" cy="1662.6" r="2.6" fill="url(#gS)"/><circle cx="1482.8" cy="1691.1" r="3.4" fill="url(#gB)"/><circle cx="1275.9" cy="1696.5" r="2.6" fill="url(#gS)"/><circle cx="1495.0" cy="1760.8" r="3.4" fill="url(#gB)"/><circle cx="1423.5" cy="1813.3" r="3.4" fill="url(#gB)"/><circle cx="1717.7" cy="1458.9" r="2.6" fill="url(#gS)"/><circle cx="1520.9" cy="378.5" r="4.5" fill="url(#gD)"/><circle cx="1601.5" cy="422.2" r="3.4" fill="url(#gB)"/><circle cx="1574.3" cy="511.3" r="3.4" fill="url(#gB)"/><circle cx="1566.2" cy="533.9" r="3.4" fill="url(#gB)"/><circle cx="1530.0" cy="540.0" r="3.4" fill="url(#gB)"/><circle cx="1637.7" cy="522.8" r="3.4" fill="url(#gB)"/><circle cx="1678.5" cy="523.4" r="2.6" fill="url(#gS)"/><circle cx="1789.5" cy="549.9" r="3.4" fill="url(#gB)"/><circle cx="1931.4" cy="597.3" r="4.5" fill="url(#gD)"/><circle cx="1944.7" cy="601.2" r="4.5" fill="url(#gD)"/><circle cx="1545.6" cy="616.9" r="2.6" fill="url(#gS)"/><circle cx="1832.4" cy="682.7" r="2.6" fill="url(#gS)"/><circle cx="1128.5" cy="45.7" r="2.6" fill="url(#gS)"/><circle cx="1140.9" cy="43.2" r="3.4" fill="url(#gB)"/><circle cx="1036.4" cy="81.0" r="2.6" fill="url(#gS)"/><circle cx="1050.3" cy="88.5" r="3.4" fill="url(#gB)"/><circle cx="1234.4" cy="124.7" r="2.6" fill="url(#gS)"/><circle cx="1138.5" cy="178.5" r="8.5" fill="url(#gF2)"/><circle cx="1042.2" cy="210.5" r="4.5" fill="url(#gD)"/><circle cx="1392.6" cy="231.3" r="3.4" fill="url(#gB)"/><circle cx="1397.4" cy="237.3" r="3.4" fill="url(#gB)"/><circle cx="1427.3" cy="246.4" r="4.5" fill="url(#gD)"/><circle cx="1363.6" cy="210.2" r="2.6" fill="url(#gS)"/><circle cx="1306.0" cy="266.6" r="2.6" fill="url(#gS)"/><circle cx="1152.9" cy="327.0" r="4.5" fill="url(#gD)"/><circle cx="1187.0" cy="316.4" r="3.4" fill="url(#gB)"/><circle cx="1287.3" cy="340.0" r="3.4" fill="url(#gB)"/><circle cx="1410.1" cy="377.7" r="3.4" fill="url(#gB)"/><circle cx="1398.0" cy="378.6" r="4.6" fill="url(#gF)"/><circle cx="1435.2" cy="377.1" r="2.6" fill="url(#gS)"/><circle cx="1443.3" cy="374.7" r="2.6" fill="url(#gS)"/><circle cx="1366.9" cy="363.5" r="2.6" fill="url(#gS)"/><circle cx="1297.5" cy="403.9" r="2.6" fill="url(#gS)"/><circle cx="1321.7" cy="413.0" r="2.6" fill="url(#gS)"/><circle cx="1091.5" cy="445.5" r="2.6" fill="url(#gS)"/><circle cx="1096.0" cy="442.5" r="2.6" fill="url(#gS)"/><circle cx="1205.0" cy="518.9" r="2.6" fill="url(#gS)"/><circle cx="1319.7" cy="546.4" r="4.5" fill="url(#gD)"/><circle cx="1336.9" cy="578.1" r="4.5" fill="url(#gD)"/><circle cx="1391.2" cy="589.6" r="4.6" fill="url(#gF)"/><circle cx="1416.9" cy="608.9" r="3.4" fill="url(#gB)"/><circle cx="1447.1" cy="572.7" r="3.4" fill="url(#gB)"/><circle cx="1284.7" cy="640.6" r="3.4" fill="url(#gB)"/><circle cx="1286.5" cy="688.0" r="3.4" fill="url(#gB)"/><circle cx="1306.4" cy="701.5" r="4.5" fill="url(#gD)"/><circle cx="1377.4" cy="708.2" r="3.4" fill="url(#gB)"/><circle cx="1039.6" cy="642.7" r="2.6" fill="url(#gS)"/><circle cx="924.6" cy="679.2" r="3.4" fill="url(#gB)"/><circle cx="1153.4" cy="693.4" r="2.6" fill="url(#gS)"/><circle cx="1135.6" cy="720.3" r="3.4" fill="url(#gB)"/><circle cx="1116.9" cy="752.6" r="3.4" fill="url(#gB)"/><ellipse cx="930.9" cy="748.0" rx="6.6" ry="4.6" fill="url(#gD)" transform="rotate(-20 930.9 748.0)"/><circle cx="1260.5" cy="762.5" r="2.6" fill="url(#gS)"/><circle cx="1224.3" cy="834.0" r="2.6" fill="url(#gS)"/><circle cx="1179.3" cy="853.4" r="3.4" fill="url(#gB)"/><circle cx="939.1" cy="507.5" r="2.6" fill="url(#gS)"/><circle cx="919.8" cy="547.9" r="2.6" fill="url(#gS)"/><circle cx="1070.4" cy="562.4" r="2.6" fill="url(#gS)"/><circle cx="1163.3" cy="581.7" r="2.6" fill="url(#gS)"/><circle cx="1133.2" cy="607.4" r="2.6" fill="url(#gS)"/><circle cx="1341.4" cy="867.2" r="2.6" fill="url(#gS)"/><circle cx="989.8" cy="847.0" r="2.6" fill="url(#gS)"/><circle cx="981.0" cy="774.3" r="2.6" fill="url(#gS)"/><circle cx="938.5" cy="824.4" r="2.6" fill="url(#gS)"/><circle cx="1424.4" cy="783.0" r="2.6" fill="url(#gS)"/><circle cx="1849.0" cy="710.2" r="4.5" fill="url(#gD)"/><circle cx="1895.8" cy="709.3" r="3.4" fill="url(#gB)"/><circle cx="1899.4" cy="774.2" r="3.4" fill="url(#gB)"/><circle cx="1899.4" cy="809.8" r="2.6" fill="url(#gS)"/><circle cx="1804.6" cy="744.0" r="4.6" fill="url(#gF)"/><circle cx="1526.0" cy="846.9" r="3.4" fill="url(#gB)"/><circle cx="1508.5" cy="828.8" r="2.6" fill="url(#gS)"/><circle cx="1705.6" cy="859.6" r="2.6" fill="url(#gS)"/><circle cx="1641.6" cy="979.7" r="3.4" fill="url(#gB)"/><circle cx="1566.2" cy="1006.9" r="2.6" fill="url(#gS)"/><circle cx="1460.5" cy="987.0" r="3.4" fill="url(#gB)"/><circle cx="1450.0" cy="978.8" r="2.6" fill="url(#gS)"/><circle cx="1443.6" cy="968.3" r="2.6" fill="url(#gS)"/><circle cx="1642.2" cy="727.4" r="2.6" fill="url(#gS)"/><circle cx="1464.1" cy="779.6" r="2.6" fill="url(#gS)"/><circle cx="1454.5" cy="800.1" r="2.6" fill="url(#gS)"/><circle cx="1656.7" cy="774.2" r="2.6" fill="url(#gS)"/><circle cx="1753.3" cy="838.5" r="2.6" fill="url(#gS)"/><circle cx="1727.3" cy="964.3" r="4.6" fill="url(#gF)"/><circle cx="1579.8" cy="1067.3" r="2.6" fill="url(#gS)"/><circle cx="1652.8" cy="1132.4" r="3.4" fill="url(#gB)"/><circle cx="1692.0" cy="1142.1" r="2.6" fill="url(#gS)"/><circle cx="1723.1" cy="1100.7" r="4.6" fill="url(#gF)"/><circle cx="1775.3" cy="1198.2" r="3.4" fill="url(#gB)"/><circle cx="1827.9" cy="1197.3" r="2.6" fill="url(#gS)"/><circle cx="1729.8" cy="1248.0" r="3.4" fill="url(#gB)"/><circle cx="1599.4" cy="1279.4" r="2.6" fill="url(#gS)"/><circle cx="1601.2" cy="1393.8" r="3.4" fill="url(#gB)"/><circle cx="1615.1" cy="1376.3" r="2.6" fill="url(#gS)"/><circle cx="1961.6" cy="1138.8" r="2.6" fill="url(#gS)"/><circle cx="1839.9" cy="1240.5" r="2.6" fill="url(#gS)"/><circle cx="1968.8" cy="1247.7" r="2.6" fill="url(#gS)"/><circle cx="1938.9" cy="1229.9" r="4.6" fill="url(#gF)"/><circle cx="1876.2" cy="1429.7" r="2.6" fill="url(#gS)"/><circle cx="1473.8" cy="1216.0" r="2.6" fill="url(#gS)"/><circle cx="1504.3" cy="1141.5" r="2.6" fill="url(#gS)"/><circle cx="1449.0" cy="1156.0" r="2.6" fill="url(#gS)"/><circle cx="178.1" cy="948.3" r="3.4" fill="url(#gB)"/><circle cx="242.4" cy="884.9" r="2.6" fill="url(#gS)"/><circle cx="256.6" cy="884.0" r="4.6" fill="url(#gF)"/><circle cx="366.2" cy="850.2" r="2.6" fill="url(#gS)"/><circle cx="327.5" cy="865.9" r="2.6" fill="url(#gS)"/><circle cx="371.3" cy="905.4" r="2.6" fill="url(#gS)"/><circle cx="358.6" cy="968.8" r="2.6" fill="url(#gS)"/><circle cx="367.7" cy="1088.0" r="3.4" fill="url(#gB)"/><circle cx="250.6" cy="1139.0" r="2.6" fill="url(#gS)"/><circle cx="280.1" cy="1199.4" r="3.4" fill="url(#gB)"/><circle cx="508.6" cy="938.6" r="2.6" fill="url(#gS)"/><circle cx="599.2" cy="1167.1" r="2.6" fill="url(#gS)"/><circle cx="546.4" cy="1173.8" r="2.6" fill="url(#gS)"/><circle cx="639.9" cy="853.8" r="2.6" fill="url(#gS)"/><circle cx="676.8" cy="956.7" r="2.6" fill="url(#gS)"/><circle cx="543.9" cy="1411.3" r="2.6" fill="url(#gS)"/><circle cx="554.8" cy="1409.2" r="2.6" fill="url(#gS)"/><circle cx="436.8" cy="1449.0" r="2.6" fill="url(#gS)"/><circle cx="559.0" cy="1459.0" r="2.6" fill="url(#gS)"/><circle cx="444.0" cy="1302.6" r="2.6" fill="url(#gS)"/><circle cx="391.2" cy="1210.6" r="2.6" fill="url(#gS)"/><circle cx="435.3" cy="1485.8" r="2.6" fill="url(#gS)"/><circle cx="582.6" cy="1449.0" r="2.6" fill="url(#gS)"/><circle cx="674.6" cy="1314.1" r="2.6" fill="url(#gS)"/><circle cx="1402.8" cy="1339.7" r="3.4" fill="url(#gB)"/><circle cx="1430.0" cy="1276.9" r="2.6" fill="url(#gS)"/><circle cx="1136.2" cy="1330.3" r="2.6" fill="url(#gS)"/><circle cx="1182.9" cy="1323.8" r="2.6" fill="url(#gS)"/><circle cx="1189.5" cy="1370.5" r="2.6" fill="url(#gS)"/><circle cx="1270.2" cy="1426.8" r="2.6" fill="url(#gS)"/><circle cx="1408.2" cy="1436.3" r="2.6" fill="url(#gS)"/><circle cx="1238.8" cy="1429.3" r="2.6" fill="url(#gS)"/><circle cx="1431.0" cy="1383.4" r="2.6" fill="url(#gS)"/><circle cx="1464.2" cy="1408.1" r="2.6" fill="url(#gS)"/><circle cx="1491.3" cy="1398.1" r="2.6" fill="url(#gS)"/><circle cx="1175.1" cy="1284.4" r="2.6" fill="url(#gS)"/><circle cx="1145.9" cy="1273.9" r="2.6" fill="url(#gS)"/><circle cx="1178.1" cy="1223.0" r="4.6" fill="url(#gF)"/></g>
</g>
<rect x="2051.5" y="-4" width="38" height="1920.6" fill="url(#cb)" stroke="#555" stroke-width="1.2"/>
<line x1="2090" y1="169.4" x2="2095" y2="169.4" stroke="#333" stroke-width="1.3"/>
<text class="ax" x="2106.5" y="185.4" font-size="38.5">20</text>
<line x1="2090" y1="403.7" x2="2095" y2="403.7" stroke="#333" stroke-width="1.3"/>
<text class="ax" x="2106.5" y="419.7" font-size="38.5">15</text>
<line x1="2090" y1="681.5" x2="2095" y2="681.5" stroke="#333" stroke-width="1.3"/>
<text class="ax" x="2106.5" y="697.5" font-size="38.5">10</text>
<line x1="2090" y1="1045.6" x2="2095" y2="1045.6" stroke="#333" stroke-width="1.3"/>
<text class="ax" x="2106.5" y="1061.6" font-size="38.5">05</text>
<g stroke="#000" stroke-width="8.5" fill="none" stroke-linecap="round" stroke-linejoin="round">
<rect x="161.2" y="19.6" width="1874.4" height="1874.5"/>
<line x1="256" y1="22" x2="256" y2="66.6"/>
<line x1="520.3" y1="22" x2="520.3" y2="66.6"/>
<line x1="784.4" y1="22" x2="784.4" y2="66.6"/>
<line x1="1049" y1="22" x2="1049" y2="66.6"/>
<line x1="1312.3" y1="22" x2="1312.3" y2="66.6"/>
<line x1="1576.8" y1="22" x2="1576.8" y2="66.6"/>
<line x1="1840.8" y1="22" x2="1840.8" y2="66.6"/>
<line x1="244.2" y1="1892" x2="244.2" y2="1847.4"/>
<line x1="511.8" y1="1892" x2="511.8" y2="1847.4"/>
<line x1="779.8" y1="1892" x2="779.8" y2="1847.4"/>
<line x1="1047.9" y1="1892" x2="1047.9" y2="1847.4"/>
<line x1="1315" y1="1892" x2="1315" y2="1847.4"/>
<line x1="1582.4" y1="1892" x2="1582.4" y2="1847.4"/>
<line x1="1850.5" y1="1892" x2="1850.5" y2="1847.4"/>
<line x1="163" y1="126.5" x2="207.6" y2="127.5"/>
<line x1="2034" y1="126.5" x2="1988.4" y2="127.5"/>
<line x1="163" y1="327.3" x2="207.6" y2="328.1"/>
<line x1="2034" y1="327.3" x2="1988.4" y2="328.1"/>
<line x1="163" y1="528.2" x2="207.6" y2="528.6"/>
<line x1="2034" y1="528.2" x2="1988.4" y2="528.6"/>
<line x1="163" y1="729.0" x2="207.6" y2="729.2"/>
<line x1="2034" y1="729.0" x2="1988.4" y2="729.2"/>
<line x1="163" y1="929.8" x2="207.6" y2="929.8"/>
<line x1="2034" y1="929.8" x2="1988.4" y2="929.8"/>
<line x1="163" y1="1130.5" x2="207.6" y2="1130.5"/>
<line x1="2034" y1="1130.5" x2="1988.4" y2="1130.5"/>
<line x1="163" y1="1331.2" x2="207.6" y2="1331.2"/>
<line x1="2034" y1="1331.2" x2="1988.4" y2="1331.2"/>
<line x1="163" y1="1531.9" x2="207.6" y2="1531.9"/>
<line x1="2034" y1="1531.9" x2="1988.4" y2="1531.9"/>
<line x1="163" y1="1732.6" x2="207.6" y2="1732.6"/>
<line x1="2034" y1="1732.6" x2="1988.4" y2="1732.6"/>
</g>
<text class="ax" x="120.5" y="148.4" font-size="47.5" text-anchor="end">28 40</text>
<text class="ax" x="134.3" y="349.1" font-size="47.5" text-anchor="end">30</text>
<text class="ax" x="134.3" y="549.8" font-size="47.5" text-anchor="end">20</text>
<text class="ax" x="134.3" y="750.5" font-size="47.5" text-anchor="end">10</text>
<text class="ax" x="134.3" y="951.2" font-size="47.5" text-anchor="end">00</text>
<text class="ax" x="120.5" y="1151.9" font-size="47.5" text-anchor="end">27 50</text>
<text class="ax" x="134.3" y="1352.6" font-size="47.5" text-anchor="end">40</text>
<text class="ax" x="134.3" y="1553.3" font-size="47.5" text-anchor="end">30</text>
<text class="ax" x="134.3" y="1754.0" font-size="47.5" text-anchor="end">20</text>
<text class="ax" x="243.2" y="1955.2" font-size="47.5" text-anchor="end">13 03</text>
<text class="ax" x="524.6" y="1955.2" font-size="47.5" text-anchor="end">02</text>
<text class="ax" x="791.5" y="1955.2" font-size="47.5" text-anchor="end">01</text>
<text class="ax" x="1060.6" y="1955.2" font-size="47.5" text-anchor="end">00</text>
<text class="ax" x="1313.8" y="1955.2" font-size="47.5" text-anchor="end">12 59</text>
<text class="ax" x="1596.4" y="1955.2" font-size="47.5" text-anchor="end">58</text>
<text class="ax" x="1863.9" y="1955.2" font-size="47.5" text-anchor="end">57</text>
<text class="ax" x="794" y="2008.2" font-size="47.5">Right Ascension</text>
<text class="ax" transform="translate(38.3,1093.8) rotate(-90)" font-size="47.5">Declination</text>
<text class="an" x="413.5" y="167">Narrow angle tailed</text>
<text class="an" x="413.5" y="201.2">radio sources</text>
<text class="an" x="280" y="508">Classic radio galaxy</text>
<text class="an" x="752.5" y="857">IC4040</text>
<text class="an" x="550.5" y="892.3">(Narrow angle tail</text>
<text class="an" x="633" y="927">radio source)</text>
<text class="an" x="976.5" y="963">NGC4874</text>
<text class="an" x="1047" y="1093.7">NGC4869</text>
<text class="an" x="799.5" y="1232.4">NGC4911</text>
<text class="an" x="799.5" y="1268.6">(Amorphous radio source)</text>
<text class="an" x="370.5" y="1545.7">Ghost radio sources</text>
<text class="an" x="370.5" y="1581.9">(Extreme relic radio sources?)</text>
<text class="an" x="1078.5" y="1833.7">Wide angle tail</text>
<text class="an" x="1078.5" y="1868.6">radio source</text>
<text class="an" x="1743" y="1492.8">NGC4839</text>
<text class="an" x="1663.5" y="482.6">Narrow angle tailed</text>
<text class="an" x="1663.5" y="516.7">radio sources</text>
<text class="an" x="1550.5" y="689.4">NGC4848</text>
<line x1="709.6" y1="182.1" x2="817.4" y2="272.0" stroke="#000" stroke-width="2.3"/>
<polygon points="842.0,292.5 810.3,277.4 821.5,264.0" fill="#000"/>
<line x1="618.5" y1="210.2" x2="807.4" y2="388.9" stroke="#000" stroke-width="2.3"/>
<polygon points="830.6,410.9 799.9,393.9 811.9,381.2" fill="#000"/>
<line x1="610.1" y1="503.4" x2="680.4" y2="534.3" stroke="#000" stroke-width="2.3"/>
<polygon points="709.7,547.2 675.1,541.5 682.1,525.5" fill="#000"/>
<line x1="597.0" y1="1502.7" x2="659.2" y2="1130.6" stroke="#000" stroke-width="2.3"/>
<polygon points="664.5,1099.0 667.5,1134.0 650.3,1131.1" fill="#000"/>
<line x1="842.5" y1="1600.0" x2="916.1" y2="1632.8" stroke="#000" stroke-width="2.3"/>
<polygon points="945.3,1645.8 910.7,1640.0 917.8,1624.0" fill="#000"/>
<line x1="1302.6" y1="1790.2" x2="1361.7" y2="1582.5" stroke="#000" stroke-width="2.3"/>
<polygon points="1370.5,1551.7 1369.6,1586.8 1352.8,1582.0" fill="#000"/>
<line x1="1790.1" y1="448.5" x2="1722.4" y2="426.2" stroke="#000" stroke-width="2.3"/>
<polygon points="1692.0,416.2 1727.0,418.5 1721.6,435.1" fill="#000"/>
<line x1="1687.5" y1="540.0" x2="1615.3" y2="587.4" stroke="#000" stroke-width="2.3"/>
<polygon points="1588.5,604.9 1612.1,578.9 1621.7,593.6" fill="#000"/>
</svg></body></html>
